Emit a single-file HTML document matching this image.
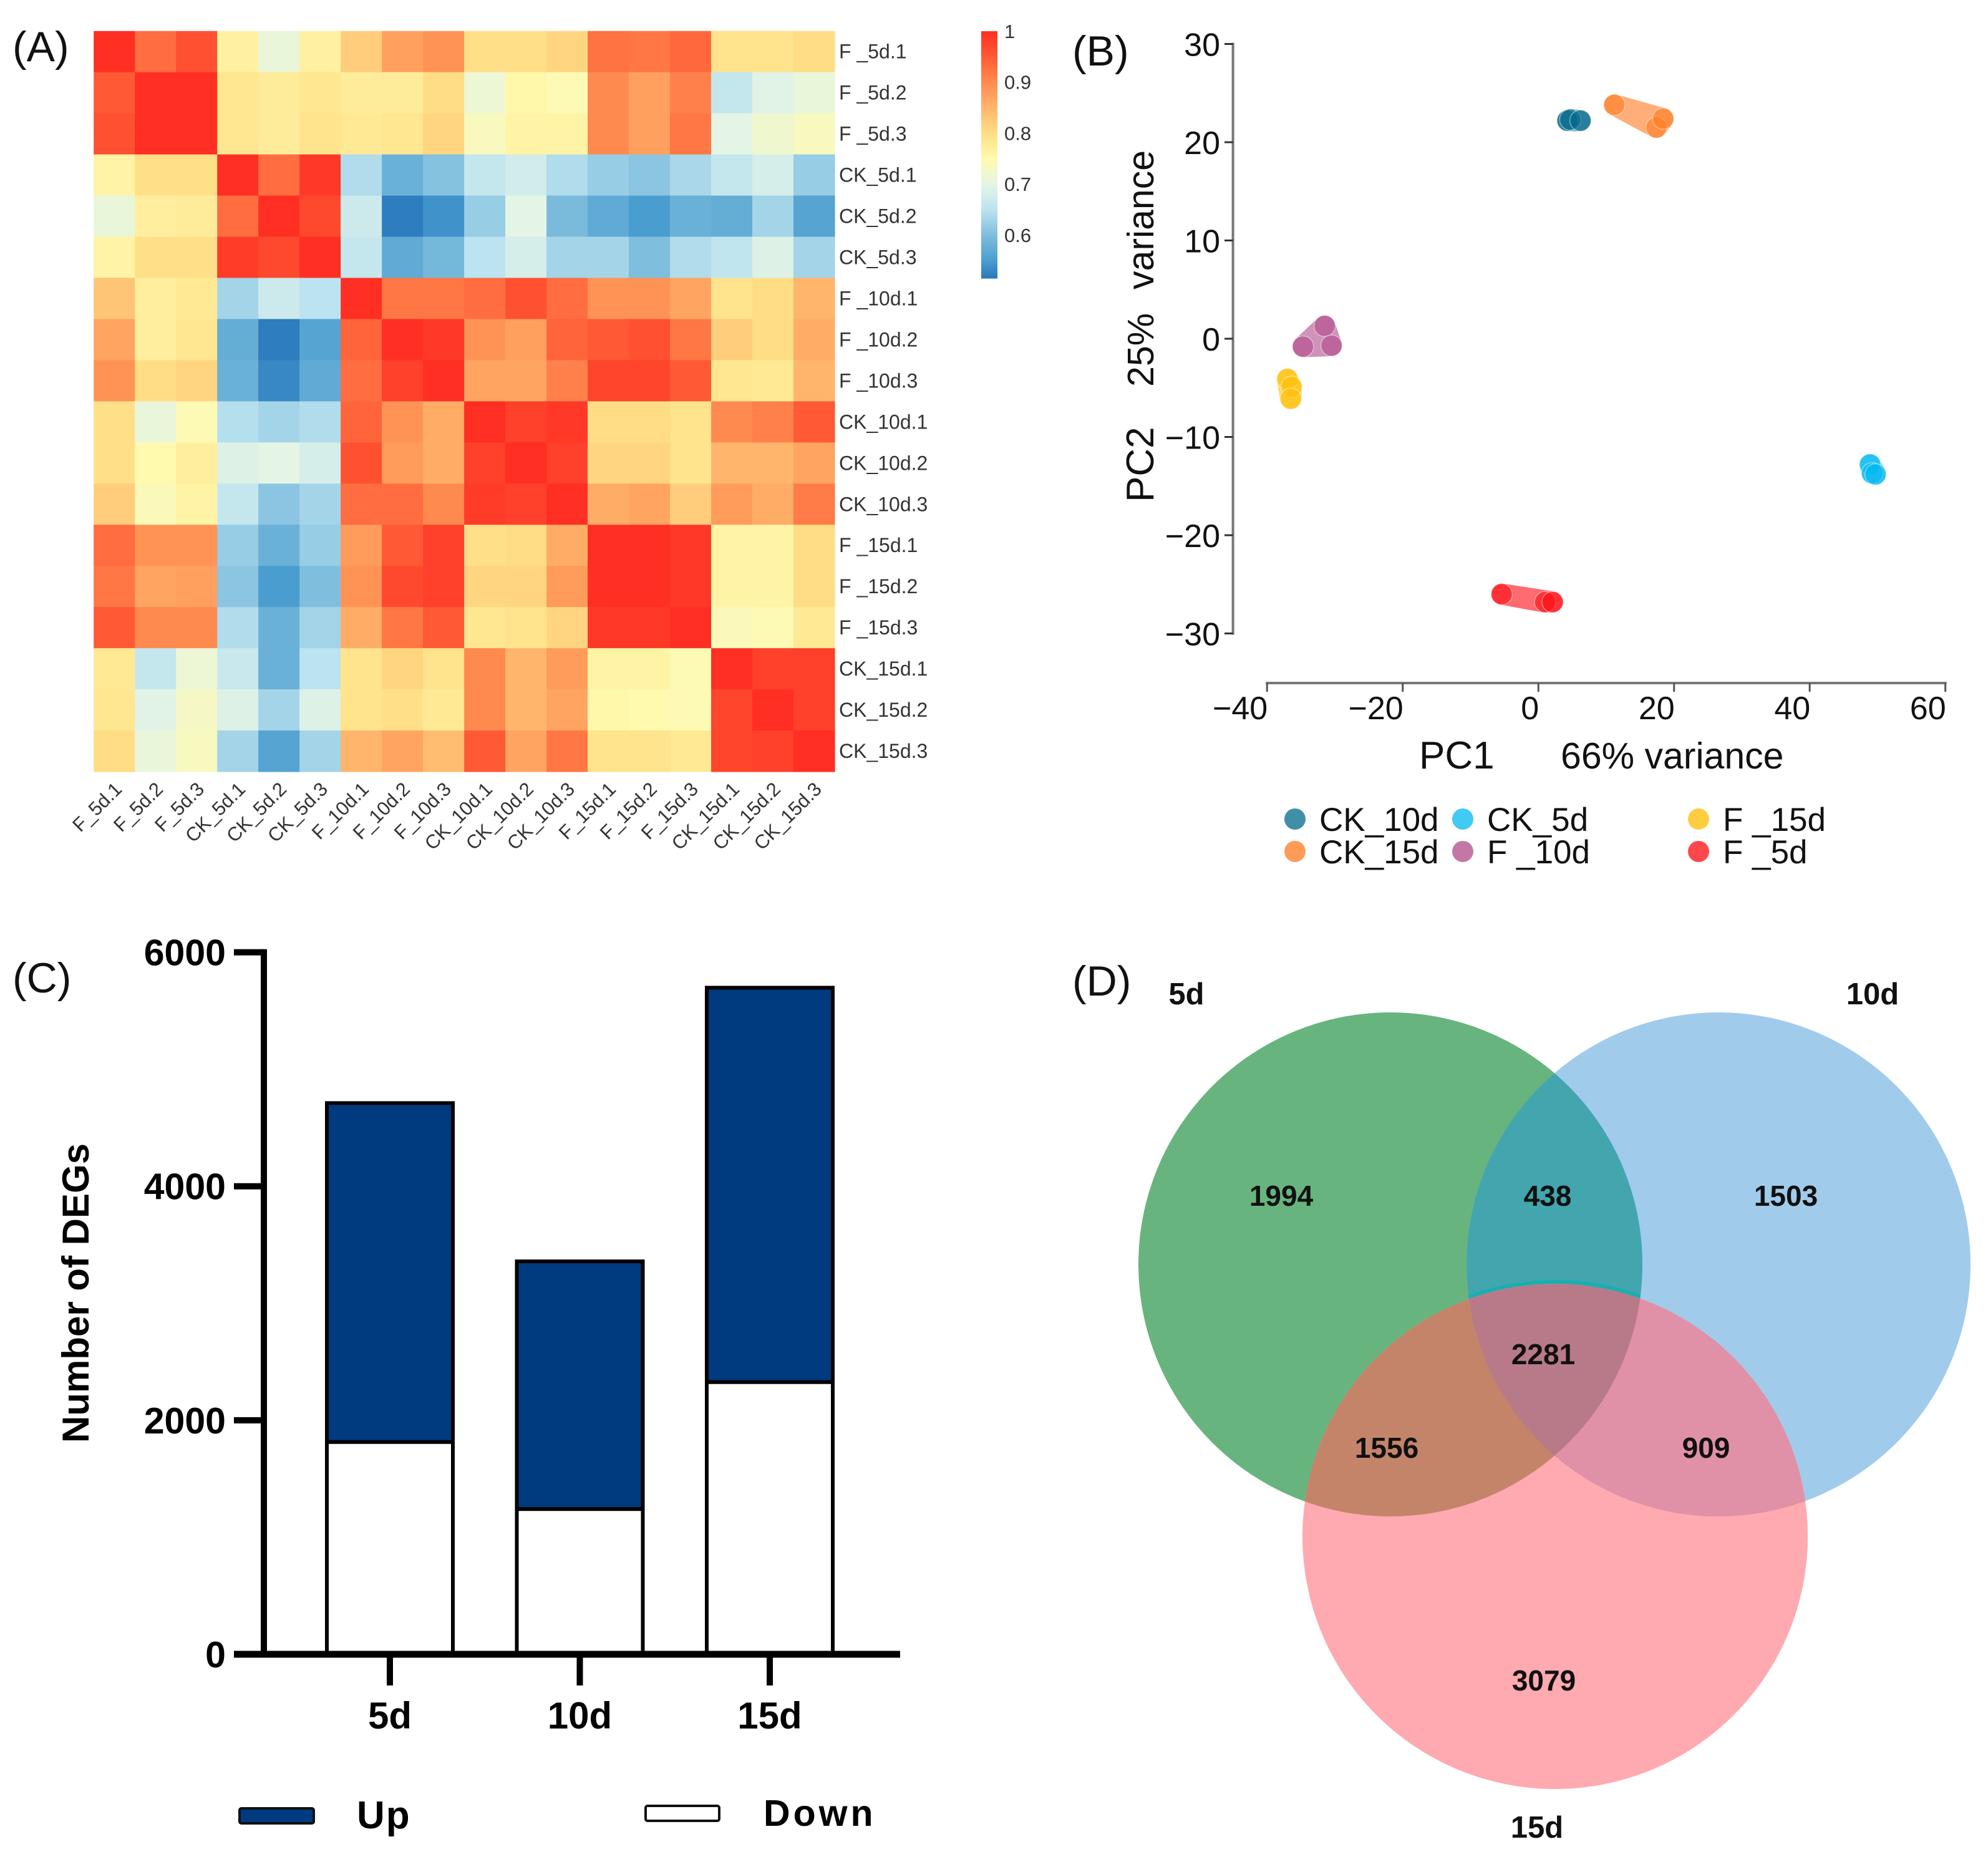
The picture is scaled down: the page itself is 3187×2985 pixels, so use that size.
<!DOCTYPE html>
<html lang="en">
<head>
<meta charset="utf-8">
<title>Transcriptome figure</title>
<style>
html,body{margin:0;padding:0;background:#fff}
svg{display:block}
text{font-family:"Liberation Sans",Arial,sans-serif}
.panel{font-size:68px;fill:#111}
.hm{font-size:31px;fill:#333}
.pca{font-size:52px;fill:#111}
.pcat{font-size:59px;fill:#111}
.b{font-weight:bold;fill:#000}
.v{font-weight:bold;font-size:46px;fill:#111;text-anchor:middle;dominant-baseline:central}
.vl{font-size:49px}
</style>
</head>
<body>
<svg id="figure" xmlns="http://www.w3.org/2000/svg" width="3187" height="2985" viewBox="0 0 3187 2985">
<rect x="0" y="0" width="3187" height="2985" fill="#fff"/>

<text class="panel" x="20" y="98">(A)</text>
<text class="panel" x="1719" y="105">(B)</text>
<text class="panel" x="20" y="1591">(C)</text>
<text class="panel" x="1719" y="1596">(D)</text>

<g id="heatmap"></g>
<g id="colorbar"></g>
<g id="pca"></g>

<text class="pcat" style="font-size:62px" transform="translate(1849 805) rotate(-90)">PC2</text>
<text class="pcat" transform="translate(1849 620) rotate(-90)">25%</text>
<text class="pcat" transform="translate(1849 464) rotate(-90)">variance</text>
<text class="pcat" style="font-size:62px" x="2275" y="1232">PC1</text>
<text class="pcat" x="2502" y="1232">66% variance</text>

<g id="bars"></g>
<text class="b" style="font-size:60px" transform="translate(142 2313) rotate(-90)">Number of DEGs</text>
<rect x="384" y="2899" width="119" height="24" rx="3" fill="#003A7F" stroke="#111" stroke-width="4"/>
<text class="b" style="font-size:62px;letter-spacing:2px" x="572" y="2931">Up</text>
<rect x="1035" y="2895" width="118" height="24" rx="3" fill="#fff" stroke="#111" stroke-width="4"/>
<text class="b" style="font-size:59px;letter-spacing:5px" x="1224" y="2927">Down</text>

<defs>
<clipPath id="clip-green"><circle cx="2229" cy="2027" r="404"/></clipPath>
<clipPath id="clip-blue"><circle cx="2755" cy="2027" r="404"/></clipPath>
<clipPath id="clip-pink"><circle cx="2493" cy="2463" r="405"/></clipPath>
</defs>
<g>
<circle cx="2229" cy="2027" r="404" fill="#68B47E"/>
<circle cx="2755" cy="2027" r="404" fill="#A1CBEB"/>
<circle cx="2493" cy="2463" r="405" fill="#FFA9B0"/>
<g clip-path="url(#clip-green)">
<circle cx="2755" cy="2027" r="404" fill="#43A5AE"/>
<g clip-path="url(#clip-blue)">
<circle cx="2493" cy="2463" r="408" fill="none" stroke="#16B0B0" stroke-width="6"/>
</g>
</g>
<g clip-path="url(#clip-green)">
<circle cx="2493" cy="2463" r="405" fill="#C4846A"/>
</g>
<g clip-path="url(#clip-blue)">
<circle cx="2493" cy="2463" r="405" fill="#E091A8"/>
<g clip-path="url(#clip-green)">
<circle cx="2493" cy="2463" r="405" fill="#B87A88"/>
</g>
</g>
<text class="v" x="2054" y="1917">1994</text>
<text class="v" x="2481" y="1917">438</text>
<text class="v" x="2863" y="1917">1503</text>
<text class="v" x="2474" y="2171">2281</text>
<text class="v" x="2223" y="2321">1556</text>
<text class="v" x="2735" y="2321">909</text>
<text class="v" x="2475" y="2694">3079</text>
<text class="v vl" x="1902" y="1594">5d</text>
<text class="v vl" x="3002" y="1594">10d</text>
<text class="v vl" x="2464" y="2930">15d</text>
</g>
</svg>

<script>
/* ---------- Panel A data ---------- */
const sampleLabels = ["F _5d.1","F _5d.2","F _5d.3","CK_5d.1","CK_5d.2","CK_5d.3","F _10d.1","F _10d.2","F _10d.3","CK_10d.1","CK_10d.2","CK_10d.3","F _15d.1","F _15d.2","F _15d.3","CK_15d.1","CK_15d.2","CK_15d.3"];
const correlationValues = [
[1,.93,.96,.765,.71,.765,.82,.875,.89,.795,.795,.81,.925,.92,.935,.79,.79,.80],
[.95,1,1,.785,.775,.785,.775,.775,.80,.715,.755,.745,.90,.875,.91,.66,.695,.71],
[.96,1,1,.785,.775,.79,.78,.785,.81,.735,.76,.76,.90,.875,.92,.70,.72,.735],
[.76,.795,.795,1,.93,.99,.64,.58,.605,.66,.675,.64,.62,.61,.635,.66,.68,.62],
[.71,.77,.775,.93,1,.97,.67,.52,.54,.62,.70,.595,.57,.55,.58,.575,.63,.56],
[.76,.795,.795,.985,.97,1,.66,.57,.59,.65,.68,.63,.63,.60,.64,.655,.69,.63],
[.83,.77,.78,.63,.67,.65,1,.92,.92,.93,.96,.93,.89,.89,.87,.79,.80,.85],
[.87,.77,.785,.575,.52,.56,.94,1,.99,.89,.875,.94,.95,.96,.92,.82,.80,.86],
[.89,.80,.81,.58,.53,.57,.93,.98,1,.87,.87,.91,.975,.975,.95,.785,.78,.85],
[.795,.71,.745,.645,.63,.64,.94,.89,.86,1,.98,.99,.80,.80,.79,.90,.91,.95],
[.795,.75,.77,.69,.70,.68,.96,.88,.86,.98,1,.98,.81,.81,.79,.85,.85,.87],
[.82,.74,.76,.66,.61,.63,.93,.93,.90,.985,.98,1,.86,.87,.82,.88,.86,.915],
[.93,.89,.89,.62,.58,.62,.88,.95,.98,.795,.80,.86,1,1,.99,.76,.76,.80],
[.92,.87,.875,.61,.55,.60,.89,.97,.98,.81,.81,.88,1,1,.99,.76,.76,.80],
[.95,.90,.90,.64,.58,.63,.86,.92,.95,.785,.79,.81,.99,.99,1,.74,.745,.78],
[.78,.66,.715,.665,.58,.65,.79,.81,.79,.90,.85,.88,.76,.76,.745,1,.98,.98],
[.785,.695,.73,.69,.63,.69,.79,.795,.78,.90,.85,.87,.755,.75,.745,.975,1,.98],
[.80,.71,.735,.63,.56,.63,.85,.87,.84,.95,.87,.92,.79,.79,.78,.975,.98,1]
];
const colorStopValues = [0.515,0.55,0.6,0.65,0.7,0.75,0.8,0.85,0.9,0.95,1];
const colorStopColors = ["#2878BC","#4A9ECF","#7FBEDD","#BCE3F0","#E5F5E5","#FFFAAE","#FFDD85","#FFB56C","#FF8A50","#FF5A35","#FF2F23"];
const colorbarTicks = [1,0.9,0.8,0.7,0.6];

/* ---------- Panel B data ---------- */
const pcaXTicks = [-40,-20,0,20,40,60];
const pcaYTicks = [30,20,10,0,-10,-20,-30];
const pcaGroups = ["CK_10d","CK_15d","CK_5d","F _10d","F _15d","F _5d"];
const pcaColors = ["#00688A","#FF7A20","#00B8F0","#B04A8A","#FFBE00","#FF0A10"];
const pc1Values = [[4.3,4.7,6.2],[11.2,17.4,18.4],[48.9,49.2,49.7],[-34.7,-31.5,-30.5],[-37,-36.4,-36.5],[-5.4,1.0,2.1]];
const pc2Values = [[22.2,22.3,22.2],[23.8,21.5,22.4],[-12.8,-13.7,-13.8],[-0.8,1.3,-0.7],[-4.1,-4.9,-6.1],[-26,-26.8,-26.8]];

/* ---------- Panel C data ---------- */
const barCategories = ["5d","10d","15d"];
const downValues = [1814,1241,2326];
const upValues = [2897,2117,3371];
const barYTicks = [0,2000,4000,6000];

const NS = "http://www.w3.org/2000/svg";
function add(parent, tag, attrs, txt) {
  const el = document.createElementNS(NS, tag);
  for (const k in attrs) el.setAttribute(k, attrs[k]);
  if (txt !== undefined) el.textContent = txt;
  parent.appendChild(el);
  return el;
}
function hexToRgb(h) { return [1,3,5].map(i => parseInt(h.slice(i,i+2),16)); }
function colorFor(v) {
  const vs = colorStopValues;
  if (v <= vs[0]) return colorStopColors[0];
  for (let i = 1; i < vs.length; i++) {
    if (v <= vs[i]) {
      const t = (v - vs[i-1]) / (vs[i] - vs[i-1]);
      const a = hexToRgb(colorStopColors[i-1]), b = hexToRgb(colorStopColors[i]);
      return "rgb(" + a.map((c,j) => Math.round(c + (b[j]-c)*t)).join(",") + ")";
    }
  }
  return colorStopColors[colorStopColors.length-1];
}
function fmt(n) { return String(n).replace("-", "\u2212"); }

/* ---------- Heatmap ---------- */
(function () {
  const g = document.getElementById("heatmap");
  const left = 150.2, top = 49.7, right = 1338, bottom = 1237;
  const n = sampleLabels.length;
  const cw = (right - left) / n, ch = (bottom - top) / n;
  const xPos = i => left + i * cw;
  const yPos = i => top + i * ch;
  correlationValues.forEach((row, r) => {
    row.forEach((v, c) => {
      const el = add(g, "rect", {x: xPos(c), y: yPos(r), width: cw + 0.6, height: ch + 0.6, fill: colorFor(v)});
      
      
    });
  });
  sampleLabels.forEach((s, i) => {
    const rl = add(g, "text", {x: 1345, y: yPos(i) + ch/2 + 11, class: "hm", style: "font-size:32px"}, s);
    
    
    const cx = xPos(i) + cw/2 + 14;
    const cl = add(g, "text", {class: "hm", "text-anchor": "end", transform: "translate(" + cx + " 1267) rotate(-45)"}, s.replace(" ", ""));
    
    
  });
})();

/* ---------- Colorbar ---------- */
(function () {
  const g = document.getElementById("colorbar");
  const top = 50, bottom = 446;
  const yv = v => top + (1 - v) * 817;
  const steps = 100;
  const h = (bottom - top) / steps;
  for (let i = 0; i < steps; i++) {
    const v = 1 - (i + 0.5) * h / 817;
    const s = add(g, "rect", {x: 1573, y: top + i*h, width: 26, height: h + 0.6, fill: colorFor(v)});
    
    
  }
  colorbarTicks.forEach(v => {
    const t = add(g, "text", {x: 1610, y: yv(v) + 11, class: "hm"}, String(v));
    
    
  });
})();

/* ---------- PCA ---------- */
(function () {
  const g = document.getElementById("pca");
  const sx = v => 2466.2 + v * 10.874;
  const sy = v => 543 - v * 15.75;
  const R = 17;
  const yAxis = add(g, "line", {x1: 1976.6, x2: 1976.6, y1: sy(30) - 2, y2: sy(-30) + 2, stroke: "#777", "stroke-width": 4});
  
  
  const xAxis = add(g, "line", {x1: sx(-40) - 2, x2: sx(60) + 2, y1: 1095, y2: 1095, stroke: "#777", "stroke-width": 4});
  
  
  pcaYTicks.forEach(v => {
    const tk = add(g, "line", {x1: 1963, x2: 1976.6, y1: sy(v), y2: sy(v), stroke: "#333", "stroke-width": 3});
    
    
    const lb = add(g, "text", {x: 1956, y: sy(v) + 19, class: "pca", "text-anchor": "end"}, fmt(v));
    
    
  });
  pcaXTicks.forEach(v => {
    const tk = add(g, "line", {x1: sx(v), x2: sx(v), y1: 1095, y2: 1109, stroke: "#555", "stroke-width": 3});
    
    
    const lb = add(g, "text", {x: sx(v) + 1, y: 1153, class: "pca", "text-anchor": "end"}, fmt(v));
    
    
  });
  pcaGroups.forEach((name, i) => {
    const pts = pc1Values[i].map((x, j) => sx(x) + "," + sy(pc2Values[i][j]));
    const hull = add(g, "polygon", {points: pts.join(" "), fill: pcaColors[i], stroke: pcaColors[i], "stroke-width": R*2, "stroke-linejoin": "round", opacity: 0.6});
    
    
    pc1Values[i].forEach((x, j) => {
      const p = add(g, "circle", {cx: sx(x), cy: sy(pc2Values[i][j]), r: R, fill: pcaColors[i], "fill-opacity": 0.6, stroke: "#fff", "stroke-opacity": 0.45, "stroke-width": 1.5});
      
      
    });
  });
  const legendCols = [2076, 2076, 2345, 2345, 2723, 2723];
  const legendRows = [1313, 1365, 1313, 1365, 1313, 1365];
  const legendOrder = [0, 1, 2, 3, 4, 5];
  legendOrder.forEach((gi, k) => {
    const c = add(g, "circle", {cx: legendCols[k], cy: legendRows[k], r: 17, fill: pcaColors[gi], "fill-opacity": 0.75});
    
    
    const t = add(g, "text", {x: legendCols[k] + 39, y: legendRows[k] + 19, class: "pca", style: "font-size:53px"}, pcaGroups[gi]);
    
    
  });
})();

/* ---------- Stacked bars ---------- */
(function () {
  const g = document.getElementById("bars");
  const y0 = 2652, perUnit = 0.18757;
  const sy = v => y0 - v * perUnit;
  const bandCenter = i => 625 + i * 304.5;
  const bw = 202;
  barCategories.forEach((c, i) => {
    const d = downValues[i], u = upValues[i], x = bandCenter(i) - bw/2;
    const up = add(g, "rect", {x: x, y: sy(d + u), width: bw, height: u * perUnit, fill: "#003A7F", stroke: "#000", "stroke-width": 6});
    
    
    const dn = add(g, "rect", {x: x, y: sy(d), width: bw, height: d * perUnit, fill: "#fff", stroke: "#000", "stroke-width": 6});
    
    
    const tk = add(g, "line", {x1: bandCenter(i), x2: bandCenter(i), y1: y0, y2: 2702, stroke: "#000", "stroke-width": 10});
    
    
    const lb = add(g, "text", {x: bandCenter(i), y: 2771, class: "b", "text-anchor": "middle", style: "font-size:60px"}, c);
    
    
  });
  const ya = add(g, "line", {x1: 423, x2: 423, y1: sy(6000) - 5, y2: y0 + 5, stroke: "#000", "stroke-width": 10});
  
  
  const xa = add(g, "line", {x1: 375, x2: 1443, y1: y0, y2: y0, stroke: "#000", "stroke-width": 11});
  
  
  barYTicks.forEach(v => {
    const tk = add(g, "line", {x1: 375, x2: 423, y1: sy(v), y2: sy(v), stroke: "#000", "stroke-width": 10});
    
    
    const lb = add(g, "text", {x: 362, y: sy(v) + 21, class: "b", "text-anchor": "end", style: "font-size:59px"}, String(v));
    
    
  });
})();
</script>
</body>
</html>
